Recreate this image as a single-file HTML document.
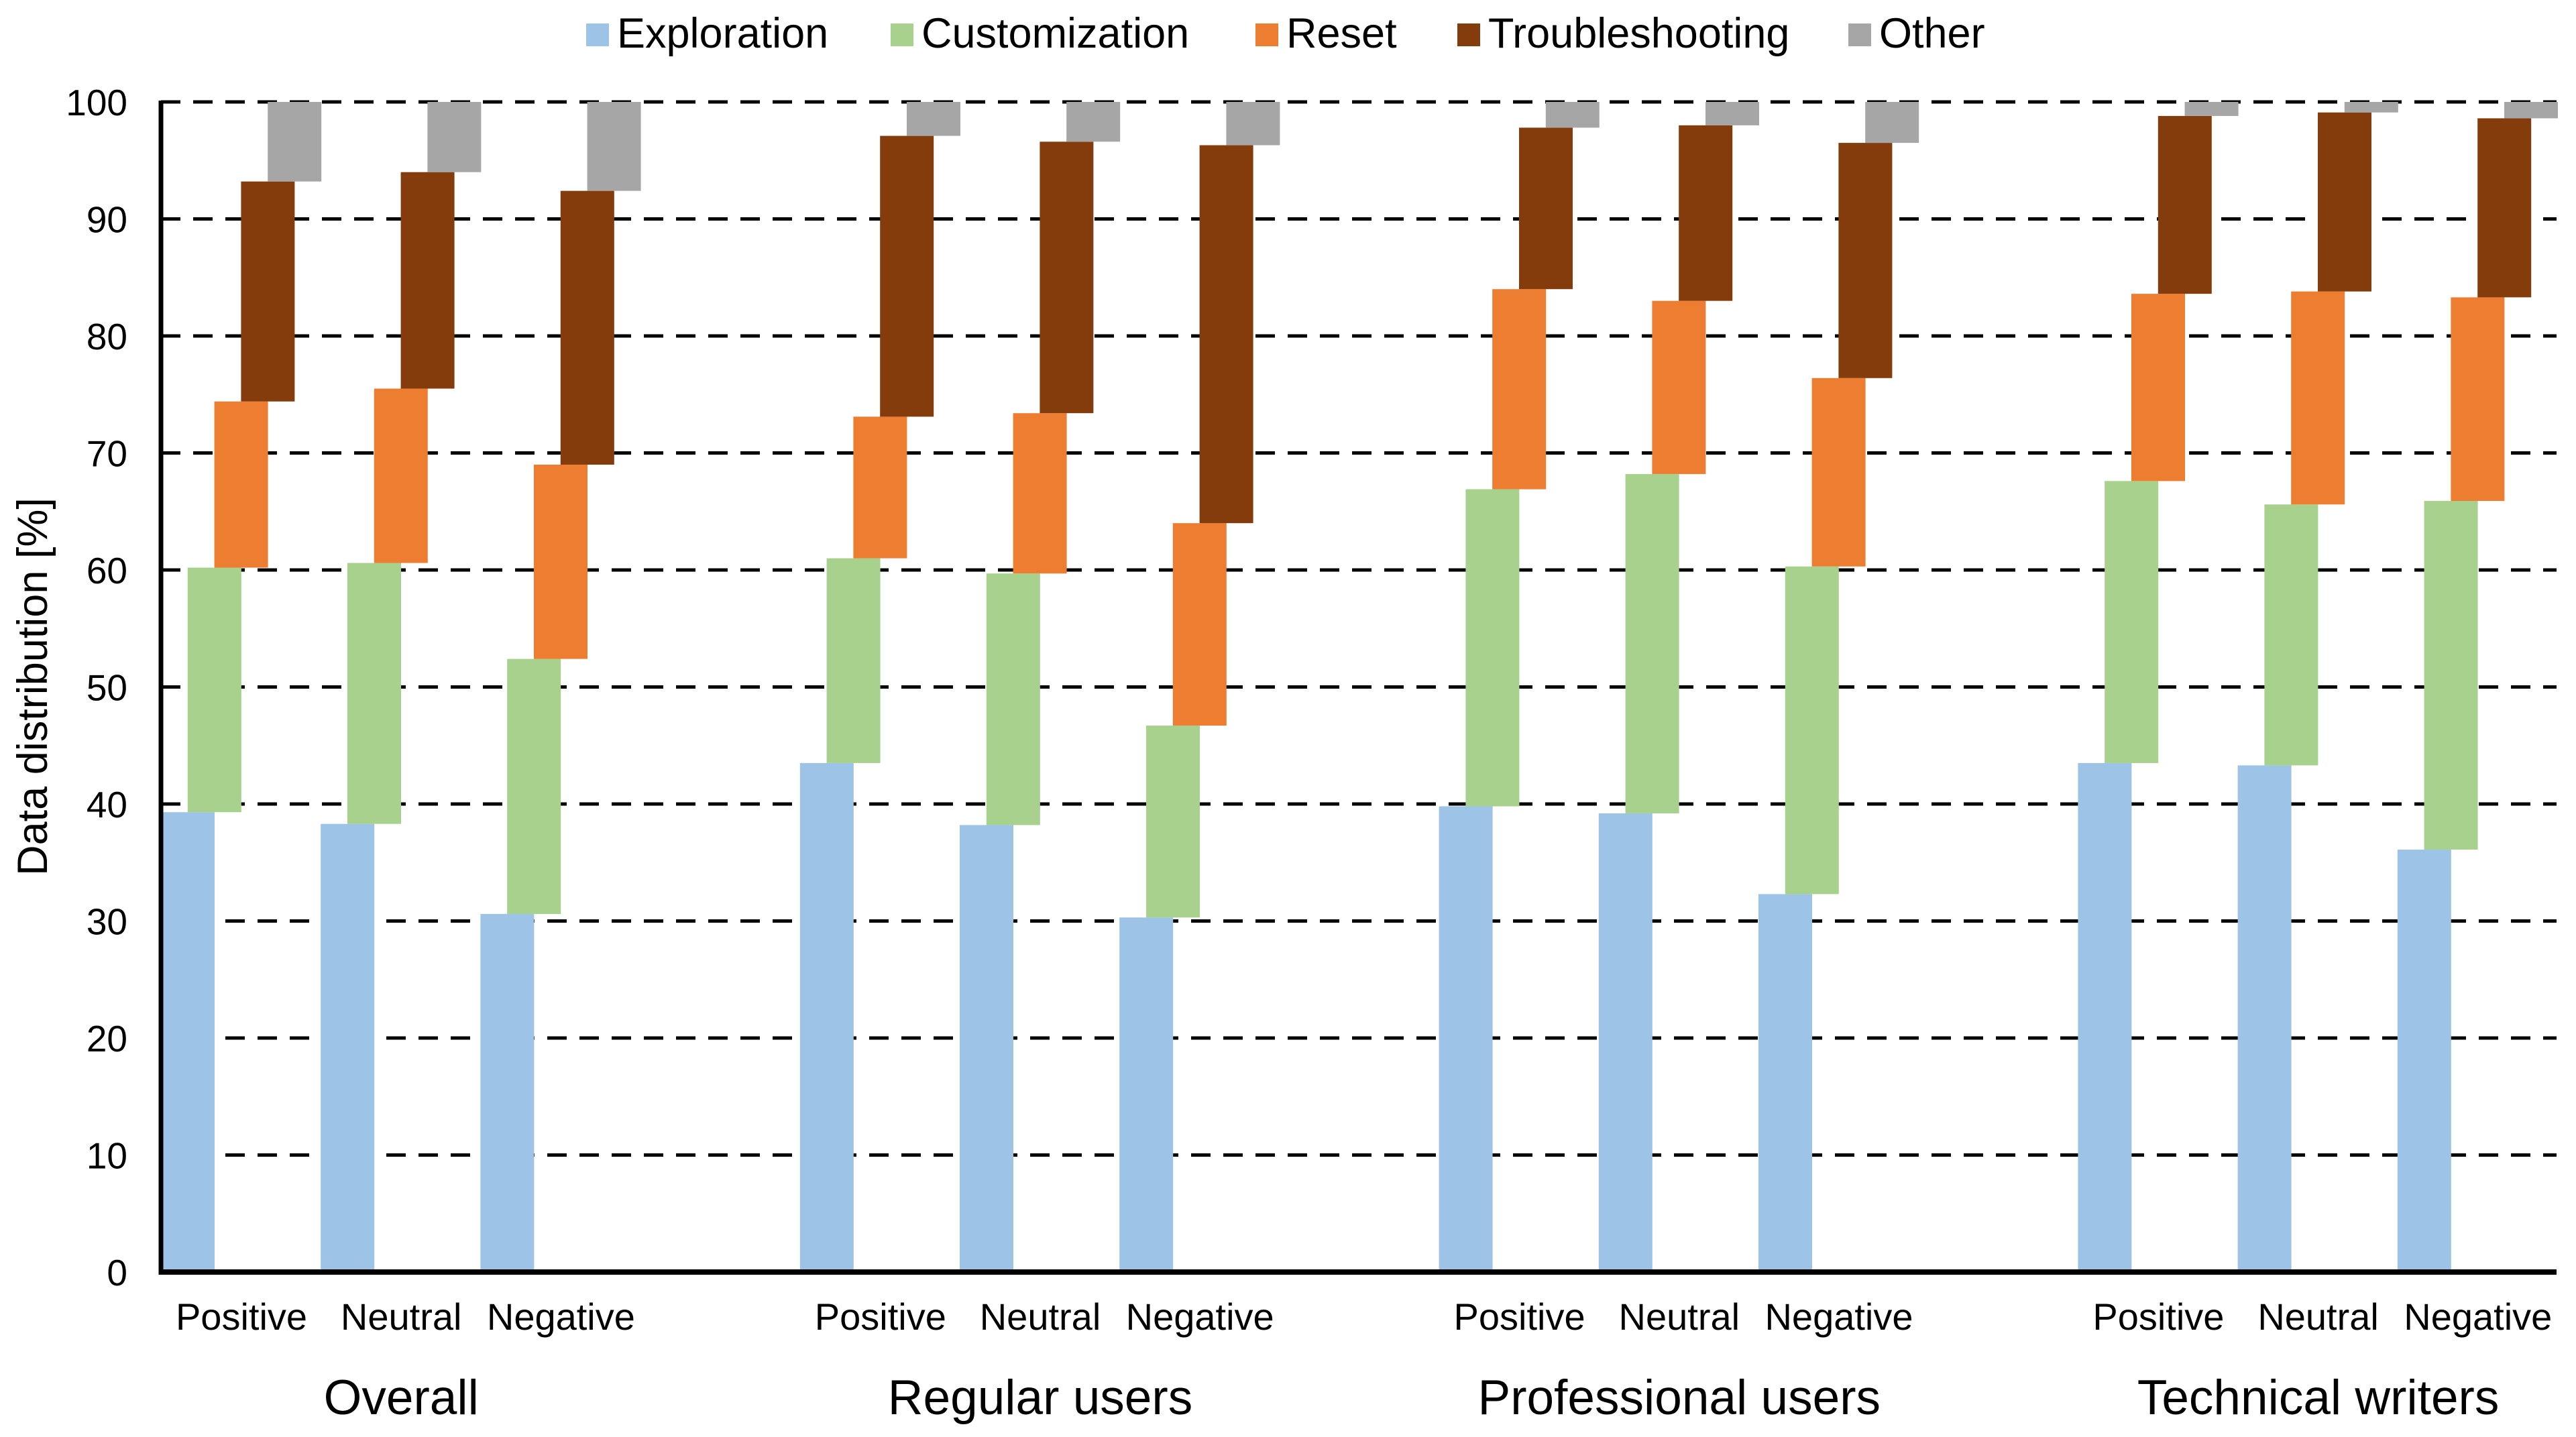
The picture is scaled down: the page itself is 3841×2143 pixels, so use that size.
<!DOCTYPE html>
<html><head><meta charset="utf-8"><style>
html,body{margin:0;padding:0;background:#fff}
svg{display:block;font-family:"Liberation Sans",Arial,sans-serif}
</style></head><body>
<svg id="chart" xmlns="http://www.w3.org/2000/svg" width="3841" height="2143" viewBox="0 0 3841 2143">
<g id="grid"></g>
<g id="bars"></g>
<g id="axes"></g>
<g id="labels"></g>
<g id="legend"></g>
<text x="0" y="0" transform="translate(70,1024) rotate(-90)" text-anchor="middle" font-size="63">Data distribution [%]</text>
</svg>
<script>
const groups = ["Overall","Regular users","Professional users","Technical writers"];
const sentiments = ["Positive","Neutral","Negative"];
const seriesNames = ["Exploration","Customization","Reset","Troubleshooting","Other"];
const exploration = [39.3,38.3,30.6,43.5,38.2,30.3,39.8,39.2,32.3,43.5,43.3,36.1];
const customization = [20.9,22.3,21.8,17.5,21.5,16.4,27.1,29.0,28.0,24.1,22.3,29.8];
const reset = [14.2,14.9,16.6,12.1,13.7,17.3,17.1,14.8,16.1,16.0,18.2,17.4];
const troubleshooting = [18.8,18.5,23.4,24.0,23.2,32.3,13.8,15.0,20.1,15.2,15.3,15.3];
const other = [6.8,6.0,7.6,2.9,3.4,3.7,2.2,2.0,3.5,1.2,0.9,1.4];
const yTicks = [0,10,20,30,40,50,60,70,80,90,100];

const series = [exploration,customization,reset,troubleshooting,other];
const colors = ["#9dc3e6","#a9d18e","#ed7d31","#843c0c","#a6a6a6"];
const NS = "http://www.w3.org/2000/svg";
const X0 = 240, X1 = 3812, Y0 = 1897, Y100 = 152, SLOT = 238.2, BW = 80, STEP = 39.8;
const y = v => Y0 - (v/100)*(Y0-Y100);
const slotX = i => X0 + (Math.floor(i/3)*4 + i%3) * SLOT;
function mk(tag, attrs, parent){const e=document.createElementNS(NS,tag);for(const k in attrs)e.setAttribute(k,attrs[k]);parent.appendChild(e);return e;}
const grid=document.getElementById('grid'), bars=document.getElementById('bars'), axes=document.getElementById('axes'), labels=document.getElementById('labels'), legend=document.getElementById('legend');

yTicks.forEach(t=>{
  if(t>0){
    const l=mk('line',{x1:X0,x2:X1,y1:y(t),y2:y(t),stroke:'#000','stroke-width':5,'stroke-dasharray':'29 19'},grid);
    
    
  }
  const tx=mk('text',{x:190,y:y(t)+20,'text-anchor':'end','font-size':55},labels);
  tx.textContent=t;
  
  
});

for(let i=0;i<exploration.length;i++){
  let base=0;
  series.forEach((s,k)=>{
    const top=base+s[i];
    const r=mk('rect',{x:slotX(i)+k*STEP,y:y(top),width:BW,height:y(base)-y(top),fill:colors[k]},bars);
    
    
    base=top;
  });
  const tl=mk('text',{x:slotX(i)+120,y:1983,'text-anchor':'middle','font-size':56},labels);
  tl.textContent=sentiments[i%3];
  
  
}
groups.forEach((g,j)=>{
  const t=mk('text',{x:slotX(j*3+1)+120,y:2109,'text-anchor':'middle','font-size':73},labels);
  t.textContent=g;
  
  
});

const ya=mk('line',{x1:X0,x2:X0,y1:Y100-2,y2:Y0+4,stroke:'#000','stroke-width':7},axes);


const xa=mk('line',{x1:X0-3,x2:X1,y1:Y0,y2:Y0,stroke:'#000','stroke-width':8},axes);



const legX=[874,1328,1872,2173,2756];
seriesNames.forEach((n,k)=>{
  const g=mk('g',{},legend);
  
  
  mk('rect',{x:legX[k],y:35,width:34,height:34,fill:colors[k]},g);
  const t=mk('text',{x:legX[k]+46,y:71,'font-size':63},g);
  t.textContent=n;
});
</script>
</body></html>
